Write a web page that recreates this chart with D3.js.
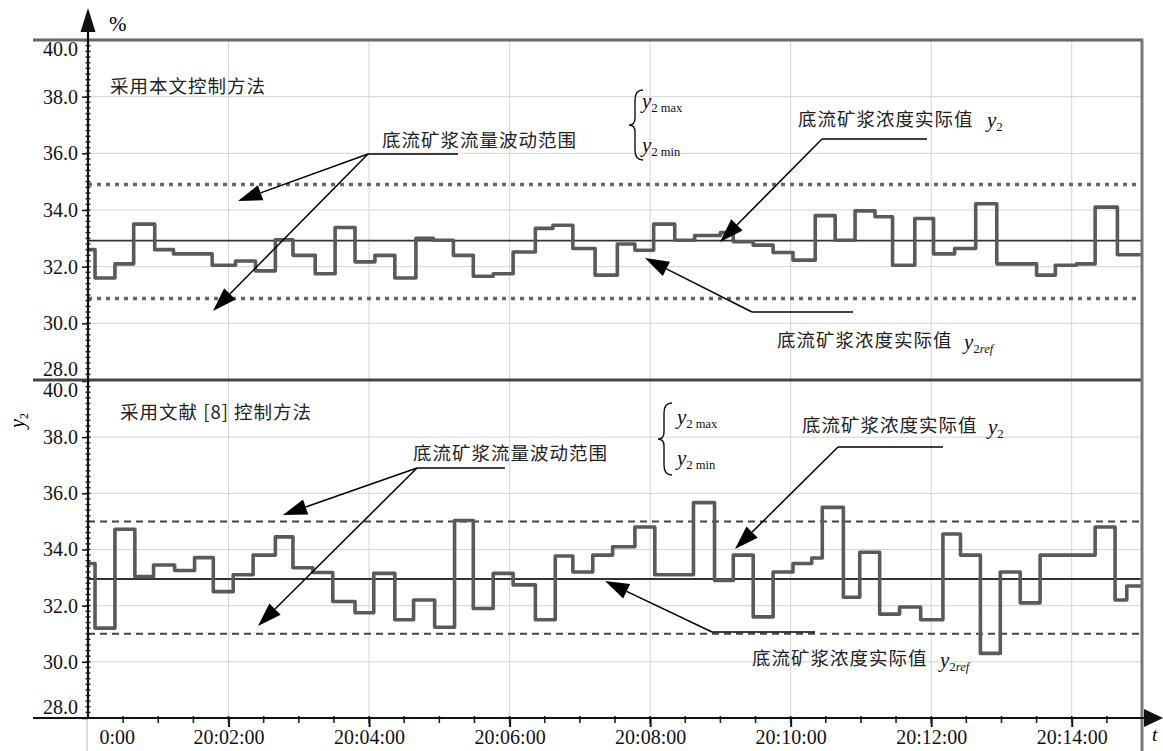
<!DOCTYPE html>
<html>
<head>
<meta charset="utf-8">
<script src="https://cdn.jsdelivr.net/npm/d3@7"></script>
<style>
  body { margin: 0; background: #fff; }
  svg { display: block; }
</style>
</head>
<body>
<script>
'use strict';

// time in seconds after 20:00:00, value in %
var topTimes = [0, 6, 23, 39, 57, 73, 106, 126, 143, 160, 175, 194, 211, 228, 245, 262, 280, 295, 312, 329, 346, 363, 382, 397, 414, 433, 452, 467, 483, 501, 518, 540, 551, 568, 585, 602, 621, 638, 655, 672, 687, 706, 722, 740, 758, 776, 810, 826, 844, 860, 879];
var topValues = [32.6, 31.6, 32.1, 33.5, 32.6, 32.45, 32.05, 32.2, 31.85, 32.95, 32.4, 31.75, 33.38, 32.17, 32.4, 31.6, 33.0, 32.93, 32.4, 31.66, 31.75, 32.52, 33.35, 33.46, 32.64, 31.7, 32.8, 32.58, 33.5, 32.93, 33.1, 33.2, 32.88, 32.76, 32.5, 32.23, 33.8, 32.93, 33.97, 33.76, 32.05, 33.7, 32.45, 32.64, 34.22, 32.1, 31.7, 32.05, 32.1, 34.1, 32.42];
var topRef = 32.92, topMax = 34.9, topMin = 30.88;

var botTimes = [0, 6, 23, 40, 56, 74, 91, 107, 124, 141, 160, 175, 192, 209, 228, 244, 262, 278, 296, 313, 329, 346, 363, 382, 399, 414, 431, 448, 467, 484, 517, 535, 551, 568, 585, 602, 618, 627, 645, 659, 676, 693, 711, 730, 745, 762, 779, 796, 813, 860, 877, 887];
var botValues = [33.5, 31.2, 34.72, 33.04, 33.45, 33.25, 33.71, 32.5, 33.1, 33.8, 34.45, 33.35, 33.18, 32.15, 31.75, 33.15, 31.5, 32.2, 31.23, 35.03, 31.9, 33.15, 32.74, 31.5, 33.77, 33.2, 33.8, 34.1, 34.8, 33.1, 35.67, 32.9, 33.8, 31.6, 33.2, 33.5, 33.7, 35.5, 32.3, 33.9, 31.7, 31.95, 31.5, 34.55, 33.8, 30.3, 33.2, 32.1, 33.8, 34.8, 32.2, 32.7];
var botRef = 32.95, botMax = 35.0, botMin = 31.0;

var endTime = 900;
var yTicks = [28, 30, 32, 34, 36, 38, 40];
var xTicks = [120, 240, 360, 480, 600, 720, 840];
var xTickLabels = ['20:02:00', '20:04:00', '20:06:00', '20:08:00', '20:10:00', '20:12:00', '20:14:00'];

var W = 1163, H = 751;
var serif = '"Liberation Serif", "DejaVu Serif", serif';
var cjk = '"Noto Sans CJK SC", sans-serif';

var svg = d3.select('body').append('svg').attr('width', W).attr('height', H);

var x = d3.scaleLinear().domain([0, endTime]).range([88, 1142]);
var yTop = d3.scaleLinear().domain([28, 40]).range([380, 40]);
var yBot = d3.scaleLinear().domain([28, 40]).range([718, 381]);

function panel(y, times, values, ref, vmax, vmin, dash) {
  var g = svg.append('g');
  // grid
  g.selectAll('line.hg').data(yTicks.slice(1, -1)).enter().append('line')
    .attr('x1', x(0)).attr('x2', x(endTime))
    .attr('y1', function (d) { return y(d); }).attr('y2', function (d) { return y(d); })
    .attr('stroke', '#d4d4d4').attr('stroke-width', 1);
  g.selectAll('line.vg').data(xTicks).enter().append('line')
    .attr('x1', function (d) { return x(d); }).attr('x2', function (d) { return x(d); })
    .attr('y1', y(40)).attr('y2', y(28))
    .attr('stroke', '#d4d4d4').attr('stroke-width', 1);

  // limits
  [vmax, vmin].forEach(function (v) {
    g.append('line').attr('x1', x(0)).attr('x2', x(endTime))
      .attr('y1', y(v)).attr('y2', y(v))
      .attr('stroke', dash ? '#444' : '#666')
      .attr('stroke-width', dash ? 2 : 3.5)
      .attr('stroke-dasharray', dash ? '7,5' : '4,5');
  });
  // reference
  g.append('line').attr('x1', x(0)).attr('x2', x(endTime))
    .attr('y1', y(ref)).attr('y2', y(ref))
    .attr('stroke', '#333').attr('stroke-width', 1.8);

  // measured value as steps
  var pts = times.map(function (t, i) { return [t, values[i]]; });
  pts.push([endTime, values[values.length - 1]]);
  var line = d3.line().curve(d3.curveStepAfter)
    .x(function (d) { return x(d[0]); })
    .y(function (d) { return y(d[1]); });
  g.append('path').datum(pts).attr('d', line)
    .attr('fill', 'none').attr('stroke', '#5a5a5a').attr('stroke-width', 3.6)
    .attr('stroke-linejoin', 'round');

  // y axis ticks and labels
  var ax = d3.axisLeft(y).tickValues(yTicks).tickSize(6).tickFormat(d3.format('.1f'));
  var ag = g.append('g').attr('transform', 'translate(' + x(0) + ',0)').call(ax);
  ag.select('.domain').remove();
  ag.selectAll('text').attr('font-family', serif).attr('font-size', 20).attr('fill', '#111').attr('x', -10)
    .attr('dy', function (d) { return d === 40 ? '0.78em' : (d === 28 ? '-0.25em' : '0.32em'); });
  ag.selectAll('line').attr('stroke', '#111').attr('stroke-width', 1.5);

  var minor = d3.range(28, 40.01, 0.2);
  g.selectAll('line.mt').data(minor).enter().append('line')
    .attr('x1', x(0) - 2.5).attr('x2', x(0) + 2.5)
    .attr('y1', function (d) { return y(d); }).attr('y2', function (d) { return y(d); })
    .attr('stroke', '#222').attr('stroke-width', 1.4);
  return g;
}

panel(yTop, topTimes, topValues, topRef, topMax, topMin, false);
panel(yBot, botTimes, botValues, botRef, botMax, botMin, true);

// frame lines
svg.append('line').attr('x1', 33).attr('x2', 1143).attr('y1', 40).attr('y2', 40).attr('stroke', '#666').attr('stroke-width', 3);
svg.append('line').attr('x1', 33).attr('x2', 1143).attr('y1', 380).attr('y2', 380).attr('stroke', '#444').attr('stroke-width', 3);
svg.append('line').attr('x1', 1142).attr('x2', 1142).attr('y1', 39).attr('y2', H).attr('stroke', '#777').attr('stroke-width', 3);

// x axis
var xa = d3.axisBottom(x).tickValues(xTicks).tickSize(9).tickFormat(function (d, i) { return xTickLabels[i]; });
var xg = svg.append('g').attr('transform', 'translate(0,718)').call(xa);
xg.select('.domain').remove();
xg.selectAll('line').attr('stroke', '#111').attr('stroke-width', 2);
xg.selectAll('text').attr('font-family', serif).attr('font-size', 20).attr('fill', '#111').attr('y', 12).attr('dy', '0.7em');
svg.selectAll('line.xm').data(d3.range(30, endTime, 30)).enter().append('line')
  .attr('x1', function (d) { return x(d); }).attr('x2', function (d) { return x(d); })
  .attr('y1', 716).attr('y2', 723).attr('stroke', '#222').attr('stroke-width', 1.6);
svg.append('text').attr('x', x(25)).attr('y', 744).attr('text-anchor', 'middle')
  .attr('font-family', serif).attr('font-size', 20).attr('fill', '#111').text('0:00');

svg.append('line').attr('x1', 33).attr('x2', 1146).attr('y1', 718).attr('y2', 718).attr('stroke', '#111').attr('stroke-width', 2.2);
svg.append('path').attr('d', 'M1163,718L1144,709L1144,727Z').attr('fill', '#111');
svg.append('text').attr('x', 1152).attr('y', 741).attr('font-family', serif).attr('font-style', 'italic')
  .attr('font-size', 19).text('t');

// y axis line
svg.append('line').attr('x1', 88).attr('x2', 88).attr('y1', 30).attr('y2', 719).attr('stroke', '#111').attr('stroke-width', 2.2);
svg.append('line').attr('x1', 87).attr('x2', 87).attr('y1', 719).attr('y2', H).attr('stroke', '#bbb').attr('stroke-width', 1);
svg.append('path').attr('d', 'M88,8L80.5,32L95.5,32Z').attr('fill', '#111');
svg.append('text').attr('x', 109).attr('y', 31).attr('font-family', serif).attr('font-size', 21).text('%');

var yl = svg.append('text').attr('transform', 'translate(24,428) rotate(-90)')
  .attr('font-family', serif).attr('font-size', 20);
yl.append('tspan').attr('font-style', 'italic').text('y');
yl.append('tspan').attr('font-size', 12).attr('dy', 4).text('2');

// annotations
function cjkText(tx, ty, s) {
  svg.append('text').attr('x', tx).attr('y', ty).attr('font-family', cjk)
    .attr('font-size', 18.5).attr('letter-spacing', 1).attr('fill', '#222').text(s);
}

function yLabel(tx, ty, sub, italicSub) {
  var t = svg.append('text').attr('x', tx).attr('y', ty).attr('font-family', serif).attr('fill', '#111');
  t.append('tspan').attr('font-style', 'italic').attr('font-size', 21).text('y');
  t.append('tspan').attr('font-size', 13).attr('dy', 4).text('2');
  if (sub) {
    t.append('tspan').attr('font-size', 12.5).attr('dx', italicSub ? 0 : 3)
      .attr('font-style', italicSub ? 'italic' : 'normal').text(sub);
  }
}

function brace(bx, y0, y1) {
  var m = (y0 + y1) / 2;
  svg.append('path')
    .attr('d', 'M' + (bx + 8) + ',' + y0 + 'Q' + bx + ',' + y0 + ' ' + bx + ',' + (y0 + 10) +
      'L' + bx + ',' + (m - 7) + 'Q' + bx + ',' + m + ' ' + (bx - 6) + ',' + m +
      'Q' + bx + ',' + m + ' ' + bx + ',' + (m + 7) +
      'L' + bx + ',' + (y1 - 10) + 'Q' + bx + ',' + y1 + ' ' + (bx + 8) + ',' + y1)
    .attr('fill', 'none').attr('stroke', '#111').attr('stroke-width', 1.4);
}

function arrow(x1, y1, x2, y2) {
  var a = Math.atan2(y2 - y1, x2 - x1);
  var L = 24, hw = 8;
  var bx = x2 - L * Math.cos(a), by = y2 - L * Math.sin(a);
  svg.append('line').attr('x1', x1).attr('y1', y1).attr('x2', bx).attr('y2', by)
    .attr('stroke', '#000').attr('stroke-width', 1.5);
  svg.append('path').attr('d', 'M' + x2 + ',' + y2 +
    'L' + (bx - hw * Math.sin(a)) + ',' + (by + hw * Math.cos(a)) +
    'L' + (bx + hw * Math.sin(a)) + ',' + (by - hw * Math.cos(a)) + 'Z').attr('fill', '#000');
}

function hline(x1, x2, yy) {
  svg.append('line').attr('x1', x1).attr('x2', x2).attr('y1', yy).attr('y2', yy)
    .attr('stroke', '#000').attr('stroke-width', 1.5);
}

// top panel notes
cjkText(110, 93, '采用本文控制方法');
cjkText(382, 147, '底流矿浆流量波动范围');
hline(368, 458, 154);
arrow(368, 154, 238, 201);
arrow(368, 154, 213, 311);
brace(635, 90, 160);
yLabel(642, 108, 'max');
yLabel(642, 152, 'min');
cjkText(798, 126, '底流矿浆浓度实际值');
yLabel(987, 127);
hline(822, 927, 139);
arrow(822, 139, 720, 242);
cjkText(777, 347, '底流矿浆浓度实际值');
yLabel(964, 349, 'ref', true);
hline(752, 853, 312);
arrow(752, 312, 645, 258);

// bottom panel notes
cjkText(120, 419, '采用文献 [8] 控制方法');
cjkText(413, 460, '底流矿浆流量波动范围');
hline(417, 505, 468);
arrow(417, 468, 283, 515);
arrow(417, 468, 258, 626);
brace(664, 403, 475);
yLabel(677, 424, 'max');
yLabel(677, 465, 'min');
cjkText(802, 432, '底流矿浆浓度实际值');
yLabel(988, 434);
hline(838, 943, 447);
arrow(838, 447, 735, 549);
cjkText(752, 665, '底流矿浆浓度实际值');
yLabel(940, 667, 'ref', true);
hline(712, 815, 632);
arrow(712, 632, 605, 581);
</script>
</body>
</html>
